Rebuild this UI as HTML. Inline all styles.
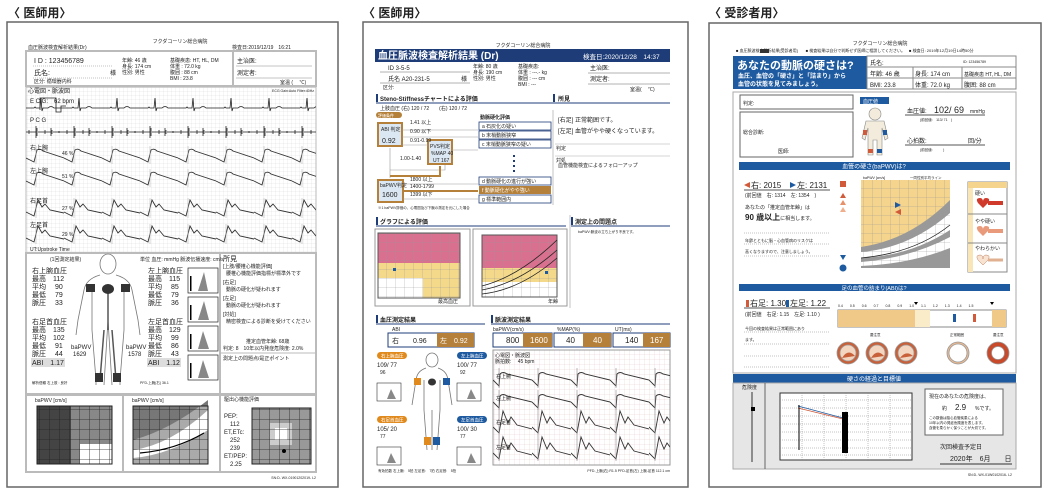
<!DOCTYPE html>
<html><head><meta charset="utf-8"><style>
html,body{margin:0;padding:0;background:#fff;width:1050px;height:493px;overflow:hidden}
svg{display:block}
text{font-family:"Liberation Sans","Noto Sans CJK JP",sans-serif;fill:#222}
.t5{font-size:5px}.t6{font-size:6px}.t7{font-size:7px}.t8{font-size:8px}
.w{fill:#fff}
</style></head><body>
<svg width="1050" height="493" viewBox="0 0 1050 493" xmlns="http://www.w3.org/2000/svg">
<defs>
<pattern id="grid" width="4" height="4" patternUnits="userSpaceOnUse"><path d="M4 0V4M0 4H4" stroke="#d8d8d8" stroke-width="0.5" fill="none"/></pattern>
<pattern id="grid2" width="5" height="5" patternUnits="userSpaceOnUse"><path d="M5 0V5M0 5H5" stroke="#e6c9c9" stroke-width="0.5" fill="none"/></pattern>
<pattern id="ecg" x="26" width="38" height="20" patternUnits="userSpaceOnUse"><path d="M0 12H8L9 11L10 12H14L15 2L16 15L17 12H22Q25 9 28 12H38" stroke="#222" stroke-width="0.8" fill="none"/></pattern>
<pattern id="pcg" x="26" width="38" height="20" patternUnits="userSpaceOnUse"><path d="M0 10H10M10 4V16M11 6V14M12 10H25M25 6V14M26 8V12M27 10H38M3 8V12M19 8V12M33 9V11" stroke="#222" stroke-width="0.8" fill="none"/></pattern>
<pattern id="arm" x="26" width="38" height="22" patternUnits="userSpaceOnUse"><path d="M0 14L8 18L11 6Q14 4 17 7L38 14" stroke="#333" stroke-width="0.9" fill="none"/><path d="M10 2V20" stroke="#aaa" stroke-width="0.5"/></pattern>
<pattern id="ank" x="26" width="38" height="24" patternUnits="userSpaceOnUse"><path d="M0 16L8 20L12 4L16 11L19 8L24 14L38 17" stroke="#333" stroke-width="0.9" fill="none"/><path d="M10 2V22" stroke="#aaa" stroke-width="0.5"/></pattern>
<pattern id="marm" x="493" width="39" height="24" patternUnits="userSpaceOnUse"><path d="M0 14L6 20L7 8Q10 5 14 8L39 14" stroke="#333" stroke-width="0.9" fill="none"/><path d="M6 2V22" stroke="#888" stroke-width="0.6"/></pattern>
<pattern id="mank" x="493" width="39" height="28" patternUnits="userSpaceOnUse"><path d="M0 19L6 25L10 3L15 15L18 9L24 17L39 21" stroke="#333" stroke-width="0.9" fill="none"/><path d="M6 1V27" stroke="#888" stroke-width="0.6"/></pattern>
<pattern id="dgrid" width="10" height="10" patternUnits="userSpaceOnUse"><path d="M10 0V10M0 10H10" stroke="#222" stroke-width="0.8" fill="none"/></pattern>
<pattern id="ygrid" width="9" height="9" patternUnits="userSpaceOnUse"><path d="M9 0V9M0 9H9" stroke="#999" stroke-width="0.5" fill="none"/></pattern>
</defs>

<!-- ============ LEFT ============ -->
<text x="8" y="17" style="font-size:12px;font-weight:bold">〈 医師用〉</text>
<rect x="7" y="22" width="331" height="465" fill="#fff" stroke="#666" stroke-width="1.5"/>
<text x="180" y="43" class="t5" text-anchor="middle">フクダコーリン総合病院</text>
<text x="28" y="49" class="t5">血圧脈波検査解析結果(Dr)</text>
<text x="232" y="49" class="t5">検査日:2019/12/19　16:21</text>
<rect x="26" y="51" width="290" height="35" fill="#fff" stroke="#bbb" stroke-width="2"/>
<line x1="233" y1="51" x2="233" y2="86" stroke="#bbb" stroke-width="2"/>
<text x="34" y="63" class="t7">I D : 123456789</text>
<line x1="33" y1="66" x2="112" y2="66" stroke="#888" stroke-dasharray="1 1" stroke-width="0.6"/>
<text x="34" y="75" class="t7">氏名:</text><text x="110" y="75" class="t6">様</text>
<line x1="33" y1="78" x2="112" y2="78" stroke="#888" stroke-dasharray="1 1" stroke-width="0.6"/>
<text x="34" y="83" class="t5">区分: 循環器内科</text>
<text x="122" y="62" class="t5">年齢: 46 歳</text><text x="122" y="68" class="t5">身長: 174 cm</text><text x="122" y="74" class="t5">性別: 男性</text>
<text x="170" y="62" class="t5">基礎疾患: HT, HL, DM</text><text x="170" y="68" class="t5">体重 :  72.0 kg</text><text x="170" y="74" class="t5">腹囲 :  88 cm</text><text x="170" y="80" class="t5">BMI :  23.8</text>
<text x="237" y="63" class="t6">主治医:</text><line x1="236" y1="66" x2="312" y2="66" stroke="#888" stroke-width="0.5"/>
<text x="237" y="75" class="t6">測定者:</text><line x1="236" y1="78" x2="312" y2="78" stroke="#888" stroke-width="0.5"/>
<text x="280" y="84" class="t5">室温 (　 ℃)</text>
<rect x="26" y="87" width="290" height="166" fill="url(#grid)" stroke="#bbb"/>
<text x="28" y="93" class="t6">心電図・脈波図</text>
<text x="314" y="92" class="t5" text-anchor="end" style="font-size:3.5px">ECG Gain:Auto Filter:40Hz</text>
<g transform="translate(0,96)"><rect x="26" y="0" width="290" height="20" fill="url(#ecg)"/></g>
<path d="M40 110V98H56V112H61V106H66" stroke="#222" stroke-width="0.8" fill="none"/>
<text x="30" y="103" class="t6">E C G:　62 bpm</text>
<text x="30" y="122" class="t6">P C G</text>
<g transform="translate(0,122)"><rect x="26" y="0" width="290" height="20" fill="url(#pcg)"/></g>
<text x="30" y="150" class="t6">右上腕</text><text x="62" y="155" class="t5">46 %</text>
<g transform="translate(0,144)"><rect x="26" y="0" width="290" height="22" fill="url(#arm)"/></g>
<text x="30" y="173" class="t6">左上腕</text><text x="62" y="178" class="t5">51 %</text>
<g transform="translate(0,167)"><rect x="26" y="0" width="290" height="22" fill="url(#arm)"/></g>
<text x="30" y="203" class="t6">右足首</text><text x="62" y="210" class="t5">27 %</text>
<g transform="translate(0,196)"><rect x="26" y="0" width="290" height="24" fill="url(#ank)"/></g>
<text x="30" y="227" class="t6">左足首</text><text x="62" y="236" class="t5">29 %</text>
<g transform="translate(0,222)"><rect x="26" y="0" width="290" height="24" fill="url(#ank)"/></g>
<text x="30" y="251" class="t5">UT:Upstroke Time</text>
<!-- middle -->
<rect x="26" y="253" width="290" height="141" fill="#fff" stroke="#bbb" stroke-width="2"/>
<line x1="220" y1="253" x2="220" y2="394" stroke="#bbb" stroke-width="2"/>
<line x1="220" y1="353" x2="316" y2="353" stroke="#bbb" stroke-width="1"/>
<text x="50" y="261" class="t5">(1回測定結果)</text><text x="140" y="261" class="t5">単位 血圧: mmHg 脈波伝播速度: cm/s</text>
<g>
<text x="32" y="273" class="t7">右上腕血圧</text>
<text x="32" y="281" class="t7">最高　112</text><text x="32" y="289" class="t7">平均　 90</text><text x="32" y="297" class="t7">最低　 79</text><text x="32" y="305" class="t7">脈圧　 33</text>
<text x="32" y="324" class="t7">右足首血圧</text>
<text x="32" y="332" class="t7">最高　135</text><text x="32" y="340" class="t7">平均　102</text><text x="32" y="348" class="t7">最低　 91</text><text x="32" y="356" class="t7">脈圧　 44</text>
<rect x="31" y="358" width="34" height="9" fill="#ddd"/><text x="32" y="365" class="t7">ABI　1.17</text>
<text x="148" y="273" class="t7">左上腕血圧</text>
<text x="148" y="281" class="t7">最高　115</text><text x="148" y="289" class="t7">平均　 85</text><text x="148" y="297" class="t7">最低　 79</text><text x="148" y="305" class="t7">脈圧　 36</text>
<text x="148" y="324" class="t7">左足首血圧</text>
<text x="148" y="332" class="t7">最高　129</text><text x="148" y="340" class="t7">平均　 99</text><text x="148" y="348" class="t7">最低　 86</text><text x="148" y="356" class="t7">脈圧　 43</text>
<rect x="147" y="358" width="34" height="9" fill="#ddd"/><text x="148" y="365" class="t7">ABI　1.12</text>
<text x="71" y="349" class="t6">baPWV</text><text x="73" y="356" class="t6">1629</text>
<text x="126" y="349" class="t6">baPWV</text><text x="128" y="356" class="t6">1578</text>
</g>
<g stroke="#777" stroke-width="0.8" fill="none">
<ellipse cx="108" cy="264" rx="8" ry="10"/>
<path d="M100 275Q86 279 84 290L78 320L76 335M116 275Q130 279 132 290L138 320L140 335M92 290L92 330L96 380L96 385M124 290L124 330L120 380L120 385M108 320L104 385M108 320L112 385"/>
</g>
<path d="M108 285V330M104 330L100 380M112 330L116 380" stroke="#555" stroke-width="1.5" fill="none"/>
<ellipse cx="108" cy="289" rx="6" ry="5" fill="#333"/>
<rect x="86" y="284" width="9" height="8" fill="#333"/><rect x="121" y="284" width="9" height="8" fill="#333"/>
<rect x="95" y="373" width="8" height="9" fill="#333"/><rect x="113" y="373" width="8" height="9" fill="#333"/>
<g stroke="#222" stroke-width="0.7" fill="#fff">
<rect x="188" y="268" width="30" height="25"/><rect x="188" y="297" width="30" height="25"/><rect x="188" y="326" width="30" height="25"/><rect x="188" y="355" width="30" height="25"/>
</g>
<g fill="#888">
<path d="M198 291L204 272L208 291Z"/><path d="M198 320L204 301L209 320Z"/><path d="M198 349L203 331L209 349Z"/><path d="M198 378L203 360L209 378Z"/>
</g>
<g fill="#000"><rect x="190" y="276" width="1.5" height="15"/><rect x="190" y="305" width="1.5" height="15"/><rect x="190" y="334" width="1.5" height="15"/><rect x="190" y="363" width="1.5" height="15"/></g>
<text x="32" y="384" class="t5" style="font-size:3.5px">解析信頼 右上肢 : 良好</text>
<text x="140" y="384" class="t5" style="font-size:3.5px">PFD-上腕(右)  36.1</text>
<text x="223" y="261" class="t7">所見</text>
<text x="223" y="268" class="t5">[上肢/腰椎心機能評価]</text>
<text x="226" y="275" class="t5">腰椎心機能評価指標が標準外です</text>
<text x="223" y="284" class="t5">[右足]</text><text x="226" y="291" class="t5">動脈の硬化が疑われます</text>
<text x="223" y="300" class="t5">[左足]</text><text x="226" y="307" class="t5">動脈の硬化が疑われます</text>
<text x="223" y="316" class="t5">[対処]</text><text x="226" y="323" class="t5">精密検査による診断を受けてください</text>
<text x="246" y="343" class="t5">推定血管年齢: 68歳</text>
<text x="223" y="350" class="t5">判定: 8　10年以内発症危険度: 2.0%</text>
<text x="223" y="360" class="t5">測定上の問題点/是正ポイント</text>
<rect x="26" y="395" width="290" height="77" fill="#fff" stroke="#bbb" stroke-width="2"/>
<line x1="123" y1="395" x2="123" y2="472" stroke="#bbb" stroke-width="2"/><line x1="220" y1="395" x2="220" y2="472" stroke="#bbb" stroke-width="2"/>
<text x="35" y="402" class="t5">baPWV [cm/s]</text><text x="132" y="402" class="t5">baPWV [cm/s]</text><text x="224" y="401" class="t5">駆出心機能評価</text>
<rect x="37" y="406" width="75" height="58" fill="#888"/>
<rect x="37" y="406" width="34" height="58" fill="#444"/>
<rect x="80" y="444" width="32" height="20" fill="#fff"/>
<rect x="37" y="406" width="75" height="58" fill="url(#dgrid)" stroke="#222"/>
<rect x="133" y="406" width="75" height="58" fill="#aaa"/>
<path d="M133 450Q170 445 208 410V430Q170 455 133 458Z" fill="#fff"/>
<path d="M133 440Q170 430 208 400V406H133Z" fill="#777"/>
<rect x="133" y="406" width="75" height="58" fill="url(#dgrid)" stroke="#222"/>
<path d="M140 453Q175 450 204 433" stroke="#000" stroke-width="1.2" fill="none"/>
<rect x="252" y="408" width="59" height="56" fill="#999"/>
<rect x="270" y="423" width="22" height="22" fill="#ccc"/><rect x="275" y="428" width="12" height="12" fill="#fff"/>
<rect x="252" y="408" width="59" height="56" fill="url(#dgrid)" stroke="#222"/>
<circle cx="284" cy="451" r="2" fill="#000"/>
<text x="224" y="418" class="t6">PEP:</text><text x="230" y="426" class="t6">112</text>
<text x="224" y="434" class="t6">ET,ETc:</text><text x="230" y="442" class="t6">252</text><text x="230" y="450" class="t6">239</text>
<text x="224" y="458" class="t6">ET/PEP:</text><text x="230" y="466" class="t6">2.25</text>
<text x="316" y="479" class="t5" text-anchor="end" style="font-size:3.5px">SN:D- WX-01901202019- L2</text>

<!-- ============ MIDDLE ============ -->
<text x="363" y="17" style="font-size:12px;font-weight:bold">〈 医師用〉</text>
<rect x="363" y="22" width="325" height="465" fill="#fff" stroke="#666" stroke-width="1.5"/>
<text x="523" y="47" class="t5" text-anchor="middle">フクダコーリン総合病院</text>
<rect x="375" y="49" width="295" height="13" fill="#1e3d78"/>
<text x="378" y="59" style="font-size:10px;font-weight:bold;fill:#fff">血圧脈波検査解析結果 (Dr)</text>
<text x="583" y="59" style="font-size:6.5px;fill:#fff">検査日:2020/12/28　14:37</text>
<text x="388" y="70" class="t6">ID 3-5-5</text><line x1="380" y1="72" x2="470" y2="72" stroke="#666" stroke-width="0.5"/>
<text x="388" y="81" class="t6">氏名 A20-231-5</text><text x="461" y="81" class="t6">様</text><line x1="380" y1="83" x2="470" y2="83" stroke="#666" stroke-width="0.5"/>
<text x="383" y="89" class="t5">区分:</text>
<text x="473" y="68" class="t5">年齢: 80 歳</text><text x="473" y="74" class="t5">身長: 190 cm</text><text x="473" y="80" class="t5">性別: 男性</text>
<text x="518" y="68" class="t5">基礎疾患:</text><text x="518" y="74" class="t5">体重 : ---.- kg</text><text x="518" y="80" class="t5">腹囲 : --- cm</text><text x="518" y="86" class="t5">BMI : ---</text>
<text x="590" y="70" class="t6">主治医:</text><line x1="588" y1="73" x2="670" y2="73" stroke="#666" stroke-width="0.5"/>
<text x="590" y="81" class="t6">測定者:</text><line x1="588" y1="84" x2="670" y2="84" stroke="#666" stroke-width="0.5"/>
<text x="630" y="91" class="t5">室温(　 ℃)</text>
<rect x="376" y="94" width="2" height="8" fill="#1e3d78"/><text x="380" y="101" style="font-size:6px;font-weight:bold">Steno-Stiffnessチャートによる評価</text>
<line x1="376" y1="103" x2="555" y2="103" stroke="#1e3d78" stroke-width="1"/>
<rect x="553" y="94" width="2" height="8" fill="#1e3d78"/><text x="558" y="101" style="font-size:6px;font-weight:bold">所見</text>
<line x1="553" y1="103" x2="670" y2="103" stroke="#1e3d78" stroke-width="1"/>
<text x="380" y="110" class="t5">上肢血圧 (右) 120 / 72　　(右) 120 / 72</text>
<rect x="376" y="112" width="26" height="6" rx="3" fill="#b5813a"/><text x="378" y="117" style="font-size:4px;fill:#fff">評価条件</text>
<rect x="378" y="123" width="24" height="23" fill="#dbe7f2" stroke="#b5813a" stroke-width="2"/>
<text x="381" y="131" class="t5">ABI 判定</text><text x="382" y="143" class="t7">0.92</text>
<rect x="428" y="140" width="24" height="24" fill="#dbe7f2" stroke="#b5813a" stroke-width="2"/>
<text x="430" y="148" class="t5">PVS判定</text><text x="431" y="155" class="t5">%MAP 40</text><text x="433" y="162" class="t5">UT 167</text>
<rect x="378" y="180" width="25" height="22" fill="#dbe7f2" stroke="#b5813a" stroke-width="2"/>
<text x="380" y="187" class="t5">baPWV判定</text><text x="382" y="197" class="t7">1600</text>
<path d="M402 130H478M402 137H478M402 145H428M452 150H478M390 148V170H445V165M390 170V178M403 184H478M403 199H478" stroke="#999" stroke-width="0.6" fill="none"/>
<path d="M403 191H478" stroke="#b5813a" stroke-width="2"/>
<path d="M390 176H440V166" stroke="#b5813a" stroke-width="2" fill="none"/>
<text x="410" y="124" class="t5">1.41 以上</text><text x="410" y="133" class="t5">0.90 以下</text><text x="410" y="142" class="t5">0.91-0.99</text>
<text x="400" y="160" class="t5">1.00-1.40</text>
<text x="410" y="181" class="t5">1800 以上</text><text x="410" y="188" class="t5">1400-1799</text><text x="410" y="196" class="t5">1399 以下</text>
<text x="480" y="119" style="font-size:5px;font-weight:bold">動脈硬化評価</text>
<g fill="#fff" stroke="#1e3d78" stroke-width="0.8">
<rect x="479" y="122" width="72" height="8"/><rect x="479" y="131" width="72" height="8"/><rect x="479" y="140" width="72" height="8"/>
<rect x="479" y="177" width="72" height="8"/><rect x="479" y="195" width="72" height="8"/></g>
<rect x="479" y="186" width="72" height="8" fill="#b5813a"/>
<text x="482" y="128" class="t5">a 石灰化の疑い</text><text x="482" y="137" class="t5">b 末梢動脈狭窄</text><text x="482" y="146" class="t5">c 末梢動脈狭窄の疑い</text>
<text x="482" y="183" class="t5">d 動脈硬化の進行が強い</text><text x="482" y="192" style="font-size:5px;fill:#fff">f 動脈硬化がやや強い</text><text x="482" y="201" class="t5">g 標準範囲内</text>
<g fill="#1e3d78"><rect x="513" y="155" width="2" height="2"/><rect x="513" y="160" width="2" height="2"/><rect x="513" y="165" width="2" height="2"/><rect x="513" y="170" width="2" height="2"/></g>
<line x1="553" y1="110" x2="553" y2="205" stroke="#aaa" stroke-width="0.7"/>
<text x="558" y="122" class="t6">[右足] 正常範囲です。</text><text x="558" y="133" class="t6">[左足] 血管がやや硬くなっています。</text>
<line x1="555" y1="144" x2="670" y2="144" stroke="#aaa" stroke-width="0.6"/><text x="556" y="150" class="t5">判定</text>
<line x1="555" y1="156" x2="670" y2="156" stroke="#aaa" stroke-width="0.6"/><text x="556" y="162" class="t5">対処</text><text x="558" y="167" class="t5">血管機能検査によるフォローアップ</text>
<text x="378" y="209" class="t5" style="font-size:3.5px">※1 baPWV評価の、心電図及び下腕の測定を元にした場合</text>
<rect x="376" y="217" width="2" height="8" fill="#1e3d78"/><text x="380" y="224" style="font-size:6px;font-weight:bold">グラフによる評価</text>
<line x1="376" y1="226" x2="566" y2="226" stroke="#1e3d78"/>
<rect x="571" y="217" width="2" height="8" fill="#1e3d78"/><text x="575" y="224" style="font-size:6px;font-weight:bold">測定上の問題点</text>
<line x1="571" y1="226" x2="670" y2="226" stroke="#1e3d78"/>
<text x="578" y="233" class="t5" style="font-size:3.5px">baPWV:脈波の立ち上がり不良です。</text>
<line x1="570" y1="215" x2="570" y2="308" stroke="#aaa" stroke-width="0.7"/>
<rect x="375" y="229" width="95" height="77" fill="#fff" stroke="#999"/>
<rect x="473" y="229" width="94" height="77" fill="#fff" stroke="#999"/>
<rect x="378" y="233" width="82" height="30" fill="#d9708f"/>
<rect x="378" y="263" width="82" height="15" fill="#f5d98a"/>
<rect x="423" y="278" width="37" height="20" fill="#f5d98a"/>
<rect x="378" y="233" width="82" height="65" fill="url(#ygrid)" stroke="#555"/>
<rect x="482" y="235" width="75" height="33" fill="#d9708f"/>
<rect x="482" y="268" width="75" height="14" fill="#f5d98a"/>
<rect x="482" y="235" width="75" height="62" fill="url(#ygrid)" stroke="#555"/>
<path d="M482 294Q520 290 557 258M482 290Q520 283 557 250M482 286Q520 276 557 240" stroke="#222" stroke-width="0.8" fill="none"/>
<rect x="393" y="268" width="3" height="3" fill="#1e5aa0"/><rect x="545" y="271" width="3" height="3" fill="#1e5aa0"/>
<text x="438" y="303" class="t5">最高血圧</text><text x="548" y="303" class="t5">年齢</text>
<rect x="376" y="315" width="2" height="8" fill="#1e3d78"/><text x="380" y="322" style="font-size:6px;font-weight:bold">血圧測定結果</text>
<line x1="376" y1="324" x2="485" y2="324" stroke="#1e3d78"/>
<rect x="491" y="315" width="2" height="8" fill="#1e3d78"/><text x="495" y="322" style="font-size:6px;font-weight:bold">脈波測定結果</text>
<line x1="491" y1="324" x2="670" y2="324" stroke="#1e3d78"/>
<text x="392" y="331" class="t5">ABI</text><text x="493" y="331" class="t5">baPWV(cm/s)</text><text x="557" y="331" class="t5">%MAP(%)</text><text x="615" y="331" class="t5">UT(ms)</text>
<rect x="388" y="333" width="86" height="14" fill="#fff" stroke="#1e3d78"/><rect x="437" y="333" width="37" height="14" fill="#b5813a"/>
<text x="392" y="343" class="t7">右</text><text x="413" y="343" class="t7">0.96</text><text x="440" y="343" style="font-size:7px;fill:#fff">左　0.92</text>
<rect x="493" y="333" width="59" height="14" fill="#fff" stroke="#1e3d78"/><rect x="523" y="333" width="29" height="14" fill="#b5813a"/>
<text x="506" y="343" class="t8">800</text><text x="530" y="343" style="font-size:8px;fill:#fff">1600</text>
<rect x="554" y="333" width="57" height="14" fill="#fff" stroke="#1e3d78"/><rect x="583" y="333" width="28" height="14" fill="#b5813a"/>
<text x="566" y="343" class="t8">40</text><text x="593" y="343" style="font-size:8px;fill:#fff">40</text>
<rect x="613" y="333" width="57" height="14" fill="#fff" stroke="#1e3d78"/><rect x="643" y="333" width="27" height="14" fill="#b5813a"/>
<text x="625" y="343" class="t8">140</text><text x="650" y="343" style="font-size:8px;fill:#fff">167</text>
<rect x="377" y="352" width="30" height="7" rx="3.5" fill="#e08a1e"/><text x="381" y="357.5" style="font-size:4.5px;fill:#fff">右上腕血圧</text>
<rect x="457" y="352" width="30" height="7" rx="3.5" fill="#1e5aa0"/><text x="461" y="357.5" style="font-size:4.5px;fill:#fff">左上腕血圧</text>
<rect x="377" y="416" width="30" height="7" rx="3.5" fill="#e08a1e"/><text x="381" y="421.5" style="font-size:4.5px;fill:#fff">右足首血圧</text>
<rect x="457" y="416" width="30" height="7" rx="3.5" fill="#1e5aa0"/><text x="461" y="421.5" style="font-size:4.5px;fill:#fff">左足首血圧</text>
<text x="377" y="367" class="t6">109/ 77</text><text x="380" y="374" class="t5">96</text>
<text x="457" y="367" class="t6">100/ 77</text><text x="460" y="374" class="t5">92</text>
<text x="377" y="431" class="t6">105/ 20</text><text x="380" y="438" class="t5">77</text>
<text x="457" y="431" class="t6">100/ 30</text><text x="460" y="438" class="t5">77</text>
<g stroke="#333" stroke-width="0.6" fill="#fff"><rect x="377" y="383" width="24" height="18"/><rect x="457" y="383" width="24" height="18"/><rect x="377" y="447" width="24" height="18"/><rect x="457" y="447" width="24" height="18"/></g>
<g fill="#888"><path d="M387 399L391 389L396 399Z"/><path d="M467 399L471 389L476 399Z"/><path d="M387 463L391 453L396 463Z"/><path d="M467 463L471 453L476 463Z"/></g>
<g stroke="#777" stroke-width="0.8" fill="none">
<ellipse cx="432" cy="360" rx="6" ry="7"/>
<path d="M426 368Q417 371 416 380L412 405M438 368Q447 371 448 380L452 405M424 380L424 410L427 450M440 380L440 410L437 450M432 410V450"/>
</g>
<ellipse cx="432" cy="382" rx="4" ry="3.5" fill="#333"/>
<rect x="414" y="378" width="7" height="7" fill="#e08a1e"/><rect x="443" y="378" width="7" height="7" fill="#1e5aa0"/>
<rect x="424" y="437" width="7" height="8" fill="#e08a1e"/><rect x="433" y="437" width="7" height="8" fill="#1e5aa0"/>
<rect x="493" y="350" width="177" height="115" fill="url(#grid2)" stroke="#999"/>
<text x="495" y="357" class="t5">心電図・脈波図</text><text x="495" y="363" class="t5">脈拍数:　 45 bpm</text>
<g transform="translate(0,366)"><rect x="493" y="0" width="177" height="24" fill="url(#marm)"/></g>
<g transform="translate(0,388)"><rect x="493" y="0" width="177" height="24" fill="url(#marm)"/></g>
<g transform="translate(0,408)"><rect x="493" y="0" width="177" height="28" fill="url(#mank)"/></g>
<g transform="translate(0,434)"><rect x="493" y="0" width="177" height="28" fill="url(#mank)"/></g>
<text x="496" y="378" class="t5">右上腕</text><text x="496" y="400" class="t5">左上腕</text><text x="496" y="424" class="t5">右足首</text><text x="496" y="449" class="t5">左足首</text>
<text x="378" y="472" class="t5" style="font-size:3.5px">有効拍数 右上腕:　5拍 左足首:　7拍 右足首:　5拍</text>
<text x="670" y="472" class="t5" text-anchor="end" style="font-size:3.5px">PFD-上腕(右)  R1.5 PFD-足首(左)  上腕-足首 112.1 cm</text>

<!-- ============ RIGHT ============ -->
<text x="709" y="17" style="font-size:12px;font-weight:bold">〈 受診者用〉</text>
<rect x="709" y="23" width="332" height="464" fill="#fff" stroke="#666" stroke-width="1.5"/>
<text x="880" y="45" class="t5" text-anchor="middle">フクダコーリン総合病院</text>
<text x="736" y="52" class="t5" style="font-size:4px">■ 血圧脈波検査解析結果[受診者用]　　■ 検査結果は自分で判断せず医師に相談してください。　■ 検査日: 2019年12月19日14時50分</text>
<rect x="760" y="49" width="9" height="4" fill="#333"/>
<rect x="733" y="56" width="134" height="33" fill="#1e5aa0"/>
<text x="737" y="69" style="font-size:11px;font-weight:bold;fill:#fff">あなたの動脈の硬さは?</text>
<text x="738" y="78" style="font-size:6px;font-weight:bold;fill:#fff">血圧、血管の「硬さ」と「詰まり」から</text>
<text x="738" y="86" style="font-size:6px;font-weight:bold;fill:#fff">血管の状態を見てみましょう。</text>
<rect x="867" y="56" width="149" height="33" fill="#fff" stroke="#888"/>
<line x1="867" y1="67" x2="1016" y2="67" stroke="#888"/><line x1="867" y1="78" x2="1016" y2="78" stroke="#888"/>
<line x1="913" y1="67" x2="913" y2="89" stroke="#888"/><line x1="962" y1="67" x2="962" y2="89" stroke="#888"/>
<text x="870" y="65" class="t6">氏名:</text><text x="963" y="63" class="t5" style="font-size:3.5px">ID: 123456789</text>
<text x="870" y="76" class="t6">年齢: 46 歳</text><text x="915" y="76" class="t6">身長: 174 cm</text><text x="964" y="76" class="t5">基礎疾患 HT, HL, DM</text>
<text x="870" y="87" class="t6">BMI: 23.8</text><text x="915" y="87" class="t6">体重: 72.0 kg</text><text x="964" y="87" class="t6">腹囲: 88 cm</text>
<rect x="733" y="92" width="283" height="281" fill="#fff" stroke="#aaa"/>
<rect x="740" y="95" width="113" height="14" fill="#fff" stroke="#666"/><text x="743" y="105" class="t5">判定:</text>
<rect x="740" y="112" width="113" height="45" fill="#fff" stroke="#666"/><text x="743" y="134" class="t5">総合診断:</text><text x="778" y="153" class="t5">医師:</text>
<rect x="860" y="97" width="29" height="7" fill="#1e5aa0"/><text x="863" y="103" style="font-size:5px;fill:#fff">血圧値</text>
<g stroke="#888" stroke-width="0.6" fill="#f3ecdc">
<circle cx="875" cy="114" r="6"/>
<path d="M866 121H884L888 138L885 140L882 128V155H877V140H873V155H868V128L865 140L862 138Z"/>
</g>
<rect x="863" y="130" width="4" height="5" fill="#d05a3a"/><rect x="883" y="130" width="4" height="5" fill="#1e5aa0"/>
<rect x="868" y="149" width="5" height="4" fill="#d05a3a"/><rect x="877" y="149" width="5" height="4" fill="#1e5aa0"/>
<text x="907" y="113" class="t6">血圧値:</text><text x="934" y="113" style="font-size:9px">102/ 69</text><text x="970" y="113" class="t5">mmHg</text>
<line x1="905" y1="115" x2="985" y2="115" stroke="#555"/><text x="920" y="121" class="t5" style="font-size:3.5px">(前回値:　113/ 71　)</text>
<text x="907" y="143" class="t6">心拍数:</text><text x="968" y="143" class="t6">回/分</text>
<line x1="905" y1="145" x2="985" y2="145" stroke="#555"/><text x="920" y="151" class="t5" style="font-size:3.5px">(前回値:　　　)</text>
<rect x="739" y="162" width="271" height="8" fill="#1e5aa0"/>
<text x="874" y="168.5" text-anchor="middle" style="font-size:6px;fill:#fff">血管の硬さ(baPWV)は?</text>
<path d="M750 182L744 185L750 188Z" fill="#d05a3a"/><text x="751" y="188" style="font-size:8px">右: 2015</text>
<path d="M790 182L796 185L790 188Z" fill="#1e5aa0"/><text x="797" y="188" style="font-size:8px">左: 2131</text>
<line x1="744" y1="190" x2="830" y2="190" stroke="#555"/>
<text x="745" y="197" class="t5">(前回値　右: 1314　左: 1354　)</text>
<text x="745" y="209" class="t5">あなたの「推定血管年齢」は</text>
<text x="745" y="220" style="font-size:8px;font-weight:bold">90 歳以上<tspan style="font-size:5px;font-weight:normal">に相当します。</tspan></text>
<line x1="744" y1="233" x2="830" y2="233" stroke="#888" stroke-dasharray="1 1" stroke-width="0.6"/>
<text x="745" y="242" class="t5" style="font-size:4px">年齢とともに脳・心血管病のリスクは</text>
<line x1="744" y1="244" x2="830" y2="244" stroke="#888" stroke-dasharray="1 1" stroke-width="0.6"/>
<text x="745" y="253" class="t5" style="font-size:4px">高くなりますので、注意しましょう。</text>
<line x1="744" y1="256" x2="830" y2="256" stroke="#888" stroke-dasharray="1 1" stroke-width="0.6"/>
<rect x="840" y="181" width="6" height="6" fill="#d05a3a"/>
<path d="M843 193L840 198H846Z" fill="#d05a3a"/><path d="M843 200L840 205H846Z" fill="#e8906a"/><path d="M843 207L840 212H846Z" fill="#f0b090"/>
<path d="M843 260L840 255H846Z" fill="#1e5aa0"/><circle cx="843" cy="268" r="3.5" fill="#1e5aa0"/>
<rect x="861" y="180" width="89" height="88" fill="#999"/>
<path d="M861 180H950V200Q910 240 861 247Z" fill="#f5d48e"/>
<path d="M861 252Q910 248 950 213V230Q910 256 861 258Z" fill="#fff"/>
<path d="M861 262Q910 258 950 237V248Q910 264 861 266Z" fill="#fff"/>
<rect x="861" y="180" width="89" height="88" fill="url(#ygrid)"/>
<path d="M861 258Q915 253 950 225" stroke="#222" stroke-width="0.8" fill="none"/>
<path d="M895 202L901 205L895 208Z" fill="#1e5aa0"/><path d="M901 209L895 212L901 215Z" fill="#d05a3a"/>
<text x="863" y="179" class="t5" style="font-size:3.5px">baPWV [cm/s]</text><text x="910" y="179" class="t5" style="font-size:3.5px">一同性別平均ライン</text>
<rect x="968" y="182" width="39" height="90" fill="#fff" stroke="#888"/>
<rect x="968" y="182" width="39" height="6" fill="#f5d48e"/>
<rect x="968" y="188" width="5" height="84" fill="#f8e6b8"/>
<line x1="968" y1="214" x2="1007" y2="214" stroke="#888"/><line x1="968" y1="243" x2="1007" y2="243" stroke="#888"/>
<text x="975" y="195" class="t5">硬い</text><text x="975" y="223" class="t5">やや硬い</text><text x="975" y="250" class="t5">やわらかい</text>
<path d="M978 203Q975 198 980 198Q983 198 983 202Q983 198 986 198Q991 198 988 203L983 208Z" fill="#d03a2a"/><path d="M988 203H1003" stroke="#d03a2a" stroke-width="4"/>
<path d="M978 231Q975 226 980 226Q983 226 983 230Q983 226 986 226Q991 226 988 231L983 236Z" fill="#e89a7a"/><path d="M988 231H1003" stroke="#e89a7a" stroke-width="4"/>
<path d="M978 260Q975 255 980 255Q983 255 983 259Q983 255 986 255Q991 255 988 260L983 265Z" fill="#f8e2d0" stroke="#c08060" stroke-width="0.5"/><path d="M988 260H1003" stroke="#e0b090" stroke-width="3"/>
<rect x="739" y="284" width="271" height="7" fill="#1e5aa0"/>
<text x="874" y="290" text-anchor="middle" style="font-size:5.5px;fill:#fff">足の血管の詰まり(ABI)は?</text>
<path d="M746 300h3v7h-3z" fill="#d05a3a"/><text x="750" y="306" style="font-size:8px">右足: 1.30</text>
<path d="M786 300h3v7h-3z" fill="#1e5aa0"/><text x="790" y="306" style="font-size:8px">左足: 1.22</text>
<line x1="744" y1="308" x2="830" y2="308" stroke="#555"/>
<text x="745" y="316" class="t5">(前回値　右足: 1.15　左足: 1.10 )</text>
<text x="745" y="330" class="t5" style="font-size:4px">今回の検査結果は正常範囲にあり</text>
<line x1="744" y1="332" x2="830" y2="332" stroke="#888" stroke-dasharray="1 1" stroke-width="0.6"/>
<text x="745" y="341" class="t5" style="font-size:4px">ます。</text>
<line x1="744" y1="344" x2="830" y2="344" stroke="#888" stroke-dasharray="1 1" stroke-width="0.6"/>
<line x1="744" y1="356" x2="830" y2="356" stroke="#888" stroke-dasharray="1 1" stroke-width="0.6"/>
<line x1="744" y1="367" x2="830" y2="367" stroke="#888" stroke-dasharray="1 1" stroke-width="0.6"/>
<text x="838" y="307" class="t5" style="font-size:3.5px">0.4　　0.5　　0.6　　0.7　　0.8　　0.9　　1.0　　1.1　　1.2　　1.3　　1.4　　1.5</text>
<path d="M914 302L918 302L916 305Z M990 302L994 302L992 305Z" fill="#000"/>
<rect x="838" y="310" width="168" height="17" fill="#fff" stroke="#888"/>
<rect x="838" y="310" width="77" height="17" fill="#f0c888"/>
<rect x="915" y="310" width="15" height="17" fill="#faecc8"/>
<rect x="992" y="310" width="14" height="17" fill="#f0c888"/>
<path d="M953 314l3 0l0 8l-3 0z" fill="#1e5aa0"/><path d="M973 314l3 0l0 8l-3 0z" fill="#d05a3a"/>
<text x="870" y="336" class="t5" style="font-size:3.5px">要注意</text><text x="950" y="336" class="t5" style="font-size:3.5px">正常範囲</text><text x="993" y="336" class="t5" style="font-size:3.5px">要注意</text>
<g stroke="#999" stroke-width="0.8">
<circle cx="848" cy="353" r="11" fill="#c8603a"/><circle cx="848" cy="353" r="8" fill="#f4d6c0"/>
<circle cx="877" cy="353" r="11" fill="#c8603a"/><circle cx="877" cy="353" r="8" fill="#f4d6c0"/>
<circle cx="906" cy="353" r="11" fill="#c8603a"/><circle cx="906" cy="353" r="8" fill="#f4d6c0"/>
<circle cx="958" cy="353" r="11" fill="#e8b890"/><circle cx="958" cy="353" r="9" fill="#fff"/>
<circle cx="998" cy="353" r="11" fill="#c84a2a"/><circle cx="998" cy="353" r="6.5" fill="#fff"/>
</g>
<path d="M842 358Q848 348 855 356Z M871 358Q877 348 884 356Z M900 358Q906 350 913 356Z" fill="#c8603a"/>
<rect x="733" y="374" width="283" height="9" fill="#1e5aa0"/>
<text x="874" y="381" text-anchor="middle" style="font-size:6px;fill:#fff">硬さの経過と目標値</text>
<rect x="733" y="383" width="283" height="86" fill="#e6e6e6" stroke="#aaa"/>
<line x1="765" y1="383" x2="765" y2="469" stroke="#666"/>
<text x="742" y="389" class="t5">危険度</text>
<line x1="752" y1="392" x2="752" y2="462" stroke="#333"/>
<rect x="751" y="407" width="4" height="4" fill="#000"/>
<rect x="780" y="393" width="132" height="67" fill="#fff" stroke="#333"/>
<g stroke="#888" stroke-width="0.5" stroke-dasharray="1 1"><path d="M780 400H912M780 408H912M780 416H912M780 424H912M780 432H912M780 440H912M780 448H912M780 455H912M802 393V460M824 393V460M846 393V460M868 393V460M890 393V460"/></g>
<path d="M798 406L843 418" stroke="#1e5aa0" stroke-width="0.8" fill="none"/><path d="M798 408L843 419" stroke="#d05a3a" stroke-width="0.8" fill="none"/>
<line x1="799" y1="405" x2="799" y2="450" stroke="#000"/>
<rect x="842" y="412" width="6" height="41" fill="#000"/>
<rect x="925" y="389" width="78" height="46" fill="#fff" stroke="#666"/>
<text x="929" y="398" class="t5">現在のあなたの危険度は、</text>
<text x="942" y="410" class="t5">約</text><text x="955" y="410" style="font-size:8px">2.9</text><text x="975" y="410" class="t5">%です。</text>
<text x="929" y="419" class="t5" style="font-size:3.5px">この数値は脳心血管疾患による</text>
<text x="929" y="424" class="t5" style="font-size:3.5px">10年以内の発症危険度を表します。</text>
<text x="929" y="429" class="t5" style="font-size:3.5px">血管を柔らかく保つことが大切です。</text>
<text x="940" y="449" class="t6">次回検査予定日</text>
<text x="950" y="461" class="t7">2020年　6月　　日</text>
<line x1="940" y1="464" x2="1012" y2="464" stroke="#333"/>
<text x="1012" y="476" class="t5" text-anchor="end" style="font-size:3.5px">SN:D- WX-01W0102016- L2</text>
</svg>
</body></html>
